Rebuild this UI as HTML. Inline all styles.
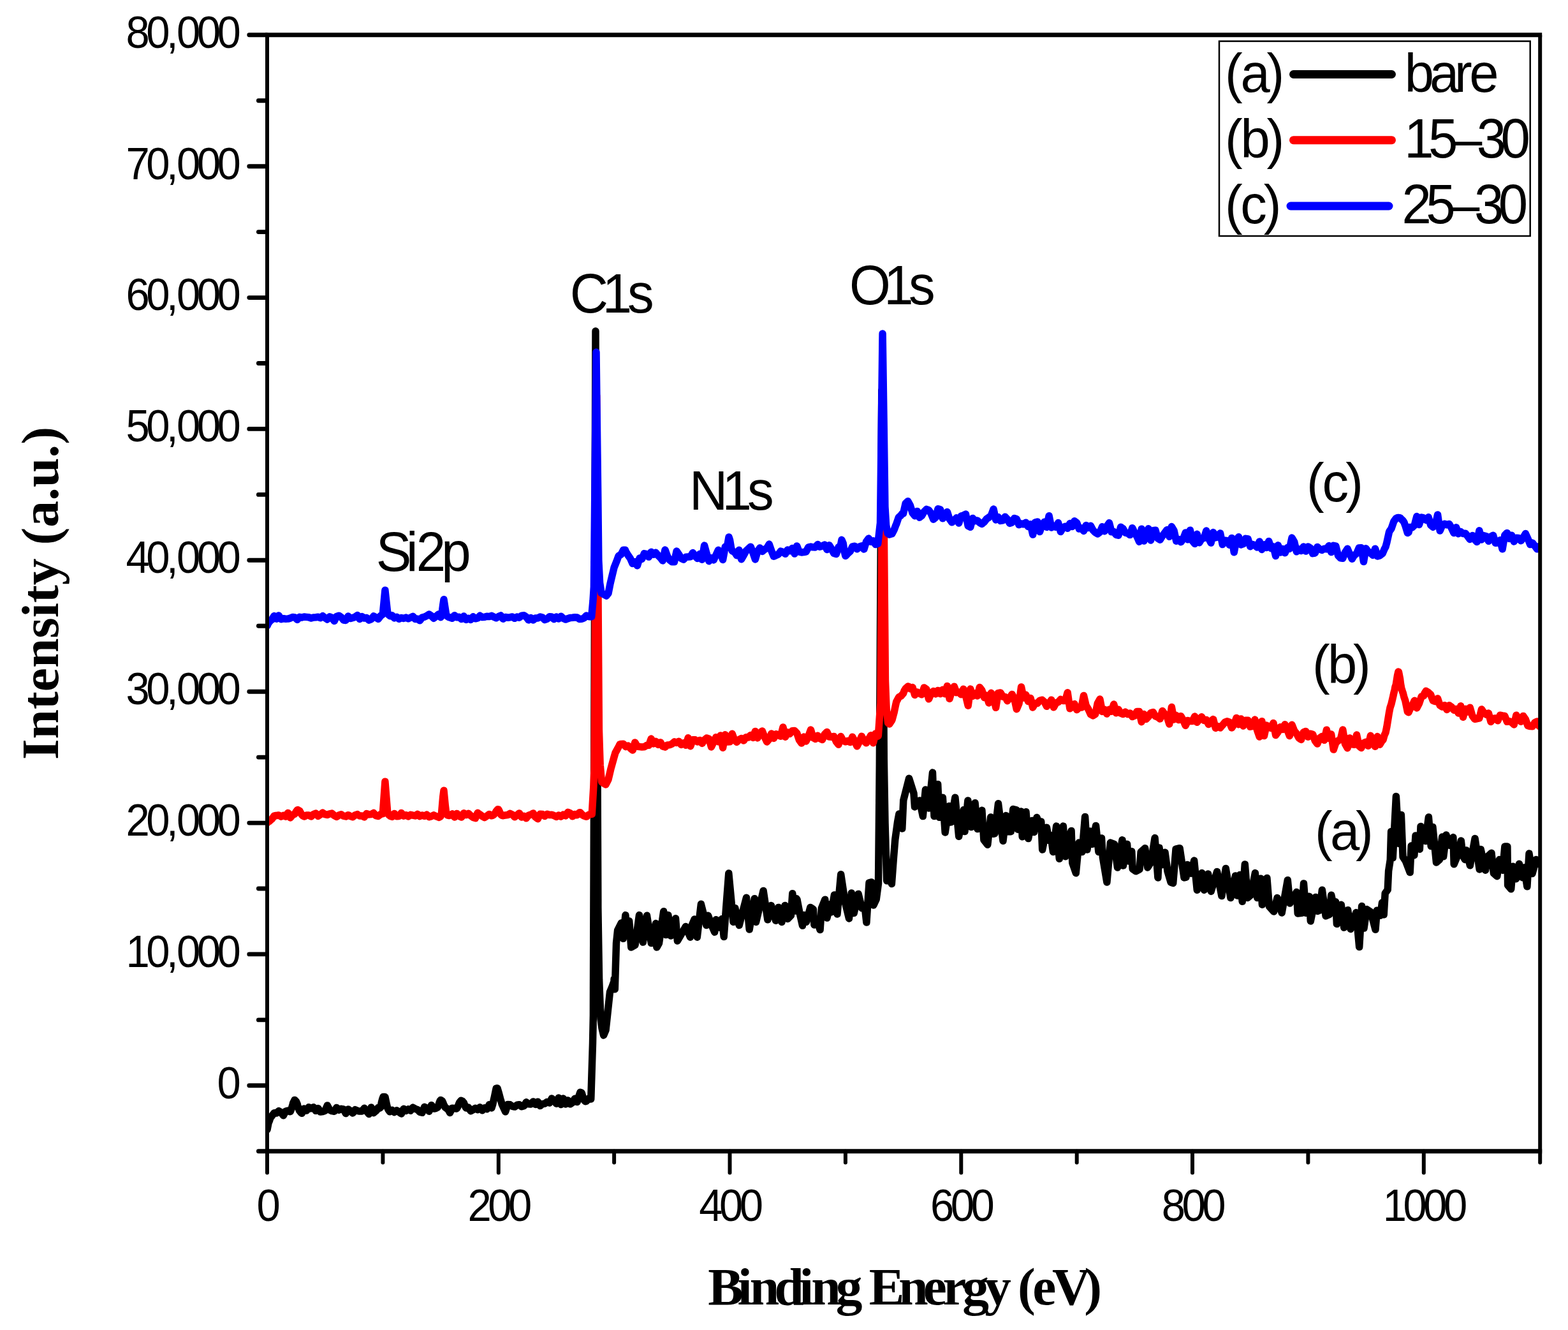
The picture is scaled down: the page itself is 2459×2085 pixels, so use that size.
<!DOCTYPE html>
<html><head><meta charset="utf-8"><title>XPS survey spectra</title>
<style>html,body{margin:0;padding:0;background:#fff}svg{display:block}</style></head>
<body>
<svg width="2459" height="2085" viewBox="0 0 2459 2085">
<rect width="2459" height="2085" fill="#fff"/>
<clipPath id="pc"><rect x="419.0" y="54.8" width="1996.1999999999998" height="1749.9"/></clipPath>
<g clip-path="url(#pc)" fill="none" stroke-linejoin="round" stroke-linecap="round" stroke-width="11.5">
<path stroke="#000" d="M419.0,1771.0 L421.0,1760.6 L422.6,1756.7 L424.0,1752.3 L426.3,1749.5 L429.9,1744.9 L430.0,1744.8 L433.5,1745.0 L437.1,1741.6 L440.0,1743.4 L440.8,1744.2 L444.4,1748.7 L448.0,1742.0 L451.6,1741.2 L452.4,1741.8 L454.8,1742.7 L455.3,1742.5 L457.2,1737.8 L458.9,1732.0 L459.6,1729.4 L462.0,1724.5 L462.5,1724.6 L464.4,1726.6 L466.2,1730.7 L466.8,1733.2 L469.2,1740.4 L469.8,1741.5 L471.6,1743.8 L473.4,1745.3 L477.0,1737.9 L480.7,1741.0 L484.3,1735.7 L487.9,1737.8 L491.6,1735.7 L495.2,1741.3 L498.8,1737.5 L500.0,1739.3 L502.4,1743.0 L506.1,1742.5 L509.7,1741.3 L513.3,1732.9 L517.0,1740.0 L520.6,1741.7 L524.2,1742.3 L527.8,1736.4 L531.5,1740.1 L535.1,1738.3 L538.7,1738.9 L542.3,1745.6 L546.0,1738.9 L549.6,1741.6 L553.2,1744.9 L556.9,1739.6 L560.5,1741.3 L564.1,1742.1 L567.7,1741.9 L571.4,1737.2 L575.0,1741.9 L578.6,1746.5 L582.2,1736.0 L585.9,1744.7 L589.5,1741.7 L590.2,1741.0 L592.9,1736.9 L593.1,1736.4 L595.6,1737.1 L596.8,1736.1 L598.3,1728.5 L600.0,1722.0 L600.4,1721.1 L601.0,1719.5 L603.7,1719.4 L604.0,1719.9 L606.4,1731.4 L607.6,1736.4 L609.1,1739.8 L611.3,1742.7 L611.8,1742.5 L614.9,1740.5 L618.5,1743.5 L622.1,1740.8 L625.8,1743.3 L629.4,1746.0 L633.0,1738.3 L636.7,1741.4 L640.3,1738.9 L643.9,1741.0 L647.5,1736.2 L651.2,1738.3 L654.8,1739.6 L658.4,1743.4 L662.0,1744.2 L665.7,1735.3 L669.3,1737.1 L672.9,1742.2 L676.6,1732.6 L680.2,1737.9 L681.4,1738.1 L683.8,1737.4 L683.8,1737.4 L686.2,1736.0 L687.4,1734.0 L688.6,1729.8 L690.0,1725.9 L691.0,1724.5 L691.1,1724.5 L693.4,1725.9 L694.7,1728.5 L695.8,1731.6 L698.2,1736.0 L698.3,1736.1 L700.6,1737.7 L702.0,1738.0 L705.6,1744.4 L709.2,1737.2 L712.8,1737.4 L713.4,1737.6 L715.8,1738.0 L716.5,1737.8 L718.2,1734.4 L720.1,1729.4 L720.6,1728.3 L723.0,1725.3 L723.7,1725.5 L725.4,1726.4 L727.4,1728.7 L727.8,1730.0 L730.2,1735.8 L731.0,1737.1 L732.6,1736.9 L734.6,1736.1 L738.2,1741.8 L741.9,1739.8 L745.5,1737.3 L749.1,1739.6 L752.7,1735.8 L756.4,1740.7 L760.0,1736.8 L763.6,1738.7 L767.2,1731.8 L770.4,1736.4 L770.9,1736.9 L772.8,1730.9 L774.5,1723.1 L775.2,1720.3 L777.6,1708.7 L778.1,1706.4 L780.0,1705.9 L781.8,1712.0 L782.4,1714.0 L784.8,1723.0 L785.4,1724.8 L787.2,1731.2 L789.0,1734.9 L789.6,1736.4 L792.6,1742.8 L796.3,1731.4 L799.9,1731.8 L803.5,1734.4 L807.1,1735.1 L810.8,1732.3 L814.4,1731.8 L818.0,1734.7 L821.7,1733.7 L825.3,1727.8 L828.9,1730.8 L830.0,1730.8 L832.5,1731.0 L836.2,1726.9 L839.8,1731.4 L843.4,1727.2 L847.1,1733.6 L850.7,1730.7 L854.3,1730.1 L857.9,1727.5 L861.6,1729.0 L865.2,1722.1 L868.8,1725.0 L872.5,1730.2 L876.1,1721.0 L879.7,1731.5 L883.3,1722.1 L887.0,1730.9 L890.0,1725.9 L890.6,1725.0 L894.2,1730.8 L897.8,1728.5 L901.5,1722.2 L901.6,1722.5 L903.7,1726.6 L905.1,1727.6 L905.8,1725.6 L907.9,1718.2 L908.7,1715.8 L910.0,1712.3 L912.1,1713.3 L912.4,1713.9 L914.2,1720.4 L916.0,1724.5 L916.3,1725.0 L918.0,1726.7 L918.4,1726.7 L919.6,1726.2 L923.2,1722.1 L924.0,1722.4 L926.7,1723.1 L926.9,1718.3 L929.5,1635.6 L930.4,1591.4 L930.5,1550.2 L934.0,519.0 L934.1,546.8 L937.0,1214.0 L937.8,1409.3 L937.8,1422.3 L939.6,1535.3 L941.0,1571.6 L941.4,1581.1 L942.0,1597.3 L944.0,1612.0 L945.0,1616.2 L946.6,1623.0 L948.6,1618.2 L950.0,1615.0 L952.3,1594.1 L955.9,1560.7 L956.5,1555.0 L959.5,1548.1 L963.0,1538.4 L963.1,1534.8 L964.3,1550.7 L966.5,1478.6 L968.6,1458.4 L974.4,1446.9 L977.3,1471.4 L980.9,1434.6 L983.8,1464.2 L986.7,1444.0 L989.8,1485.1 L996.0,1481.5 L1002.5,1434.6 L1008.3,1477.1 L1014.5,1435.3 L1021.3,1478.6 L1023.4,1477.1 L1028.5,1447.6 L1029.9,1485.1 L1033.5,1478.6 L1040.7,1428.8 L1044.3,1465.6 L1047.9,1434.6 L1052.0,1467.0 L1059.5,1439.7 L1062.4,1475.0 L1070.3,1461.3 L1075.3,1452.6 L1082.5,1469.2 L1085.4,1449.7 L1089.0,1441.1 L1093.3,1469.2 L1099.4,1417.3 L1107.8,1450.5 L1110.6,1435.3 L1115.7,1449.7 L1120.7,1461.3 L1122.9,1441.8 L1128.7,1454.1 L1132.3,1440.4 L1135.2,1468.5 L1142.8,1369.0 L1150.0,1445.4 L1152.9,1423.8 L1159.2,1450.5 L1170.5,1407.2 L1175.2,1457.0 L1183.2,1408.7 L1185.6,1445.4 L1197.1,1396.4 L1203.9,1441.8 L1209.4,1419.5 L1216.6,1443.3 L1220.9,1422.4 L1226.0,1445.4 L1231.0,1419.5 L1235.3,1440.4 L1240.4,1435.3 L1242.8,1400.7 L1246.2,1428.1 L1249.0,1408.7 L1250.0,1410.2 L1253.8,1429.9 L1258.5,1451.1 L1260.8,1434.5 L1264.6,1445.3 L1270.8,1422.5 L1275.4,1425.3 L1276.9,1449.9 L1280.8,1442.2 L1286.1,1457.6 L1288.4,1423.7 L1293.8,1410.2 L1296.9,1439.1 L1302.3,1417.6 L1303.8,1429.9 L1308.4,1403.0 L1313.0,1433.0 L1318.7,1370.7 L1325.3,1414.5 L1331.5,1439.9 L1335.3,1399.9 L1339.2,1431.4 L1346.1,1401.4 L1351.5,1423.7 L1356.1,1420.7 L1358.9,1446.0 L1363.0,1383.8 L1366.9,1383.0 L1369.9,1419.1 L1374.2,1409.9 L1377.5,1385.0 L1379.3,1200.0 L1381.0,900.0 L1382.8,612.0 L1384.6,900.0 L1386.3,1190.0 L1388.0,1290.0 L1390.7,1380.7 L1394.0,1372.0 L1398.4,1385.6 L1401.5,1343.8 L1403.8,1316.1 L1407.6,1288.4 L1409.9,1276.1 L1414.8,1298.9 L1416.8,1254.6 L1425.6,1220.3 L1433.0,1243.8 L1434.5,1265.0 L1442.2,1254.9 L1447.3,1279.6 L1451.4,1238.0 L1456.8,1266.9 L1462.5,1211.1 L1465.0,1279.6 L1470.7,1229.5 L1473.0,1281.2 L1478.4,1250.3 L1482.2,1305.0 L1488.3,1263.8 L1491.1,1288.9 L1497.9,1250.3 L1503.7,1311.2 L1511.4,1269.5 L1513.0,1303.5 L1517.9,1254.9 L1522.9,1296.6 L1529.1,1258.7 L1532.9,1299.6 L1539.9,1270.3 L1542.9,1316.6 L1548.8,1324.2 L1553.7,1281.0 L1558.0,1307.3 L1560.0,1306.7 L1565.5,1259.8 L1573.0,1318.2 L1577.7,1278.6 L1581.6,1303.8 L1585.2,1303.8 L1588.8,1268.5 L1593.9,1269.9 L1596.0,1300.2 L1601.5,1272.1 L1603.2,1311.7 L1609.0,1272.8 L1612.6,1314.6 L1618.4,1286.5 L1621.7,1304.5 L1626.0,1281.5 L1629.9,1292.3 L1632.8,1287.9 L1634.7,1331.9 L1641.5,1297.3 L1645.1,1317.5 L1647.9,1309.6 L1651.5,1335.5 L1656.6,1295.1 L1661.3,1346.3 L1667.4,1295.1 L1670.7,1342.7 L1675.3,1315.3 L1680.1,1302.4 L1681.8,1352.8 L1687.3,1368.7 L1691.9,1321.1 L1697.0,1335.5 L1701.6,1280.4 L1704.9,1331.9 L1709.9,1303.1 L1712.8,1323.3 L1718.6,1294.4 L1722.9,1335.5 L1727.5,1313.9 L1729.4,1344.2 L1735.9,1383.1 L1741.4,1321.1 L1747.4,1323.3 L1752.5,1360.0 L1760.0,1316.8 L1761.5,1357.1 L1767.6,1323.3 L1769.8,1349.9 L1774.8,1334.8 L1776.2,1362.2 L1781.3,1365.8 L1787.1,1362.9 L1789.2,1335.5 L1795.7,1329.7 L1799.7,1360.0 L1805.1,1351.4 L1811.1,1313.6 L1815.9,1375.9 L1818.0,1329.0 L1821.7,1355.7 L1827.0,1336.2 L1831.0,1365.8 L1836.1,1383.1 L1839.7,1384.5 L1844.0,1331.2 L1850.1,1329.7 L1857.0,1375.9 L1860.0,1375.1 L1862.2,1355.6 L1867.9,1369.3 L1872.7,1349.1 L1877.3,1395.2 L1884.8,1368.6 L1888.4,1395.2 L1894.6,1370.0 L1899.2,1397.4 L1908.6,1366.4 L1915.9,1404.6 L1922.3,1361.4 L1929.9,1407.5 L1937.4,1372.9 L1940.0,1403.9 L1944.3,1371.5 L1948.2,1413.3 L1952.3,1354.9 L1956.6,1407.5 L1961.6,1403.2 L1968.4,1368.6 L1971.7,1407.5 L1977.1,1377.2 L1979.4,1418.3 L1986.9,1376.5 L1990.5,1421.2 L1997.7,1429.1 L2003.0,1407.5 L2010.2,1431.0 L2019.3,1379.7 L2022.9,1416.1 L2033.4,1398.4 L2035.2,1432.0 L2041.4,1431.3 L2044.5,1384.9 L2048.1,1431.3 L2053.2,1405.3 L2055.3,1444.0 L2063.0,1406.5 L2066.2,1428.4 L2069.8,1427.0 L2073.4,1395.2 L2079.1,1435.9 L2084.9,1433.4 L2087.8,1403.2 L2091.4,1419.7 L2094.7,1413.7 L2096.4,1448.6 L2103.3,1418.3 L2107.7,1454.1 L2113.7,1426.7 L2118.0,1456.5 L2126.7,1430.6 L2131.7,1484.6 L2135.6,1420.5 L2139.0,1455.1 L2143.3,1425.5 L2149.8,1429.8 L2157.0,1457.2 L2159.4,1427.2 L2164.8,1435.3 L2167.5,1415.1 L2170.2,1433.9 L2172.2,1400.3 L2176.2,1394.9 L2177.6,1365.3 L2180.3,1347.8 L2181.6,1303.4 L2184.3,1344.7 L2189.4,1248.4 L2193.7,1322.5 L2197.4,1277.6 L2200.1,1343.4 L2204.5,1350.1 L2211.2,1367.6 L2213.2,1326.0 L2217.9,1340.7 L2220.0,1309.9 L2226.4,1331.3 L2228.0,1295.5 L2235.4,1318.5 L2240.4,1281.0 L2244.2,1326.6 L2246.9,1296.4 L2252.5,1352.1 L2257.6,1347.4 L2261.7,1311.9 L2263.7,1342.7 L2268.0,1308.9 L2273.1,1325.2 L2278.9,1312.6 L2280.2,1354.8 L2285.9,1341.1 L2291.3,1318.0 L2294.0,1341.1 L2297.3,1347.4 L2299.4,1333.0 L2305.4,1356.8 L2313.1,1314.6 L2320.2,1362.9 L2322.2,1331.4 L2329.6,1364.2 L2333.0,1342.8 L2339.0,1337.2 L2342.4,1368.9 L2347.8,1373.7 L2351.4,1347.6 L2356.5,1364.2 L2359.9,1327.0 L2363.9,1327.0 L2364.6,1387.8 L2369.7,1393.8 L2372.7,1358.3 L2377.7,1377.7 L2382.5,1354.3 L2387.5,1375.7 L2390.2,1359.9 L2394.9,1389.8 L2398.0,1338.1 L2403.0,1369.6 L2409.0,1347.6 L2413.7,1354.6"/>
<path stroke="#f00" d="M419.0,1290.1 L421.0,1287.7 L422.6,1287.4 L425.0,1284.8 L426.3,1284.2 L429.9,1279.1 L432.0,1278.6 L433.5,1278.7 L437.1,1277.9 L440.8,1280.1 L444.4,1278.4 L445.0,1278.7 L448.0,1280.1 L451.6,1274.4 L455.3,1281.9 L456.2,1280.8 L458.9,1277.4 L461.6,1276.4 L462.5,1275.7 L464.3,1272.5 L466.2,1269.9 L467.0,1269.6 L469.7,1271.0 L469.8,1271.1 L472.4,1275.8 L473.4,1277.4 L475.1,1279.0 L477.0,1280.0 L477.8,1279.7 L480.7,1278.0 L484.3,1278.1 L487.9,1280.0 L491.6,1276.5 L495.2,1275.1 L498.8,1279.3 L502.4,1277.0 L506.1,1274.2 L509.7,1276.6 L513.3,1277.4 L517.0,1275.8 L520.6,1275.1 L524.2,1278.5 L527.8,1280.4 L531.5,1277.9 L535.1,1276.8 L538.7,1279.2 L542.3,1280.0 L546.0,1277.7 L549.6,1279.6 L553.2,1280.7 L556.9,1277.9 L560.5,1276.6 L564.1,1279.1 L567.7,1278.9 L571.4,1280.8 L575.0,1275.5 L578.6,1276.9 L582.2,1276.5 L585.9,1274.5 L589.5,1278.6 L593.1,1279.5 L596.6,1276.8 L596.8,1276.5 L600.2,1275.7 L600.4,1274.1 L603.9,1225.2 L604.0,1226.6 L607.6,1271.8 L607.7,1272.6 L609.5,1277.3 L611.3,1278.6 L611.9,1279.4 L614.9,1280.4 L618.5,1275.4 L622.1,1279.7 L625.8,1279.6 L629.4,1274.4 L633.0,1279.1 L636.7,1277.7 L640.3,1280.0 L643.9,1277.3 L647.5,1278.2 L651.2,1279.0 L654.8,1276.4 L658.4,1279.6 L662.0,1278.0 L665.7,1279.3 L669.3,1277.1 L672.9,1280.6 L676.6,1279.6 L680.2,1277.9 L683.8,1279.6 L687.4,1281.0 L688.7,1281.4 L691.1,1279.7 L692.4,1275.8 L694.7,1249.3 L696.0,1239.2 L698.3,1262.7 L699.8,1274.9 L701.6,1277.8 L702.0,1278.0 L704.0,1278.6 L705.6,1278.0 L709.2,1276.0 L712.8,1281.0 L716.5,1275.4 L720.1,1279.5 L723.7,1281.1 L727.4,1274.7 L731.0,1277.5 L734.6,1275.3 L738.2,1278.7 L741.9,1281.5 L745.5,1282.6 L749.1,1274.3 L752.7,1276.9 L756.4,1279.7 L760.0,1281.6 L763.6,1279.1 L767.2,1276.5 L770.9,1278.8 L772.2,1278.4 L774.3,1277.3 L774.5,1277.1 L776.4,1274.9 L778.1,1271.9 L778.5,1271.2 L780.6,1268.8 L781.8,1269.0 L782.7,1270.8 L784.8,1275.6 L785.4,1276.8 L786.9,1278.1 L789.0,1278.7 L789.0,1278.7 L792.6,1277.9 L796.3,1277.6 L799.9,1275.3 L803.5,1277.1 L807.1,1280.8 L810.8,1277.7 L814.4,1274.9 L818.0,1281.0 L821.7,1279.3 L825.3,1282.7 L828.9,1278.2 L832.5,1277.1 L836.2,1274.9 L839.8,1281.0 L843.4,1283.7 L847.1,1276.3 L850.7,1276.6 L854.3,1279.4 L857.9,1276.2 L861.6,1277.5 L865.2,1277.3 L868.8,1278.5 L872.5,1280.5 L876.1,1278.1 L879.7,1280.1 L883.3,1277.1 L887.0,1278.8 L890.6,1273.3 L894.2,1274.8 L897.8,1279.8 L901.5,1276.6 L901.6,1276.7 L903.7,1277.7 L905.1,1277.7 L905.8,1277.1 L907.9,1274.5 L908.7,1273.7 L910.0,1273.8 L912.1,1276.1 L912.4,1276.5 L914.2,1278.1 L916.0,1279.0 L916.3,1279.2 L918.4,1280.0 L919.6,1280.2 L920.0,1280.0 L923.2,1277.3 L926.0,1276.6 L926.9,1276.3 L928.3,1276.2 L930.5,1239.2 L931.0,1230.5 L932.0,1206.0 L934.1,857.6 L935.6,620.0 L937.0,804.4 L937.8,910.4 L939.4,1143.5 L941.2,1199.8 L941.4,1201.7 L943.6,1225.8 L944.0,1226.0 L945.0,1226.7 L948.6,1229.1 L950.0,1230.0 L952.3,1225.5 L954.0,1222.0 L955.9,1214.0 L958.0,1205.0 L959.5,1199.6 L963.1,1186.6 L965.0,1180.1 L966.8,1176.9 L970.4,1170.3 L972.0,1166.9 L974.0,1166.5 L977.6,1166.3 L981.3,1170.6 L984.9,1169.0 L988.5,1173.0 L992.2,1176.0 L995.8,1163.9 L999.4,1170.2 L1000.0,1170.3 L1003.0,1170.6 L1006.7,1171.1 L1010.3,1170.8 L1013.9,1168.6 L1017.5,1168.3 L1021.2,1158.1 L1024.8,1165.9 L1028.4,1162.3 L1032.1,1167.4 L1035.7,1163.7 L1039.3,1170.0 L1043.0,1171.1 L1046.6,1167.9 L1050.2,1167.8 L1053.8,1166.3 L1057.5,1162.9 L1061.1,1164.4 L1064.7,1162.3 L1068.3,1167.4 L1072.0,1165.0 L1075.6,1168.3 L1079.2,1156.7 L1082.8,1169.8 L1086.5,1159.7 L1090.1,1159.8 L1093.7,1162.8 L1097.4,1160.5 L1101.0,1165.4 L1104.6,1160.1 L1108.2,1157.0 L1111.9,1158.2 L1115.5,1170.9 L1119.1,1163.2 L1122.8,1155.8 L1126.4,1162.7 L1129.0,1155.8 L1130.0,1153.0 L1133.6,1172.3 L1137.3,1151.8 L1140.9,1163.1 L1144.5,1162.8 L1148.2,1150.2 L1151.8,1160.0 L1155.4,1163.4 L1159.0,1159.6 L1162.7,1157.6 L1166.3,1161.1 L1169.9,1155.7 L1173.5,1156.0 L1177.2,1152.5 L1180.8,1156.4 L1184.0,1147.5 L1184.4,1146.4 L1188.0,1156.9 L1191.7,1149.3 L1195.3,1145.9 L1198.9,1154.8 L1202.6,1162.9 L1206.2,1158.7 L1209.8,1150.0 L1213.4,1157.4 L1217.1,1150.7 L1220.7,1152.8 L1224.3,1154.3 L1228.0,1140.0 L1231.6,1155.2 L1235.2,1148.0 L1238.8,1150.2 L1242.5,1145.7 L1246.1,1145.6 L1249.7,1149.2 L1253.3,1159.9 L1254.0,1160.9 L1257.0,1165.1 L1260.6,1155.1 L1264.2,1161.9 L1267.9,1153.8 L1271.5,1144.1 L1275.1,1156.5 L1278.7,1158.4 L1282.4,1153.3 L1286.0,1157.8 L1289.6,1159.5 L1293.2,1151.0 L1296.9,1147.4 L1300.5,1155.1 L1304.1,1155.2 L1307.8,1154.5 L1311.4,1162.6 L1315.0,1167.2 L1318.6,1154.5 L1322.3,1161.2 L1325.9,1162.8 L1329.5,1161.5 L1333.2,1163.6 L1336.8,1155.2 L1340.4,1162.0 L1344.0,1169.8 L1347.7,1162.6 L1351.3,1154.2 L1354.0,1159.8 L1354.9,1161.5 L1358.5,1164.8 L1362.2,1158.8 L1365.8,1152.7 L1369.4,1164.7 L1372.0,1154.4 L1373.1,1150.0 L1376.7,1154.0 L1377.3,1153.7 L1380.3,1111.4 L1381.0,1102.5 L1381.5,1034.9 L1383.9,724.1 L1384.6,640.0 L1386.0,792.4 L1387.6,971.8 L1388.4,1066.6 L1390.2,1112.2 L1391.2,1121.0 L1392.0,1128.0 L1392.6,1133.4 L1394.8,1135.0 L1394.8,1135.0 L1398.5,1129.6 L1399.0,1128.4 L1402.1,1117.1 L1404.0,1107.8 L1405.7,1100.2 L1409.3,1093.5 L1410.0,1092.6 L1413.0,1091.1 L1416.6,1087.0 L1418.0,1083.1 L1420.2,1079.5 L1423.8,1076.1 L1425.0,1076.2 L1427.5,1079.8 L1431.1,1077.6 L1434.7,1089.5 L1438.4,1084.9 L1440.0,1086.5 L1442.0,1087.0 L1445.6,1088.8 L1449.2,1078.0 L1452.9,1080.5 L1456.5,1095.8 L1460.1,1087.7 L1463.8,1083.6 L1467.4,1087.9 L1471.0,1082.4 L1474.6,1087.7 L1478.3,1081.3 L1481.9,1087.8 L1484.0,1080.5 L1485.5,1075.4 L1489.1,1095.4 L1492.8,1083.2 L1496.4,1076.2 L1500.0,1085.6 L1503.7,1084.9 L1507.3,1088.7 L1510.9,1080.2 L1514.5,1090.9 L1518.2,1106.2 L1521.8,1080.1 L1525.4,1091.3 L1529.0,1087.2 L1532.7,1090.9 L1536.3,1077.5 L1539.9,1082.3 L1543.6,1093.5 L1547.2,1090.3 L1550.8,1102.0 L1554.4,1086.3 L1558.1,1092.6 L1561.7,1109.3 L1565.3,1086.7 L1569.0,1086.0 L1572.6,1092.2 L1576.2,1092.4 L1579.8,1098.7 L1583.5,1094.1 L1587.1,1088.4 L1590.7,1095.2 L1594.3,1111.7 L1598.0,1103.0 L1601.6,1076.9 L1605.2,1093.9 L1608.8,1089.2 L1612.5,1099.6 L1616.1,1094.5 L1619.7,1109.0 L1623.4,1102.5 L1627.0,1102.5 L1628.0,1101.2 L1630.6,1098.2 L1634.2,1097.2 L1637.9,1100.3 L1641.5,1107.3 L1645.1,1102.7 L1648.8,1097.2 L1652.4,1108.8 L1656.0,1102.0 L1659.6,1100.7 L1663.3,1096.4 L1666.9,1098.5 L1670.5,1098.5 L1674.2,1085.7 L1677.8,1110.8 L1681.4,1108.3 L1685.0,1103.6 L1688.7,1112.7 L1692.3,1109.1 L1695.9,1109.1 L1699.5,1090.4 L1703.2,1106.1 L1706.8,1111.9 L1710.4,1119.8 L1714.0,1121.9 L1717.7,1119.6 L1721.3,1102.5 L1724.9,1096.1 L1728.6,1115.4 L1732.2,1112.2 L1735.8,1119.1 L1739.5,1112.3 L1743.1,1115.2 L1746.7,1104.0 L1750.3,1117.8 L1754.0,1112.3 L1757.6,1118.2 L1761.2,1119.5 L1764.8,1116.1 L1768.5,1119.6 L1772.0,1118.0 L1772.1,1117.9 L1775.7,1123.5 L1779.3,1122.2 L1783.0,1115.4 L1786.6,1115.5 L1790.2,1131.7 L1793.9,1119.5 L1797.5,1127.3 L1801.1,1123.6 L1804.7,1117.5 L1808.4,1116.6 L1812.0,1122.8 L1815.6,1124.1 L1819.2,1126.9 L1822.9,1114.5 L1826.5,1119.4 L1830.1,1123.2 L1833.8,1135.1 L1837.4,1108.5 L1841.0,1127.9 L1844.7,1121.6 L1848.3,1128.6 L1851.9,1122.7 L1855.5,1128.9 L1859.2,1137.4 L1862.8,1129.6 L1866.4,1130.5 L1870.0,1130.4 L1873.7,1123.1 L1877.3,1132.3 L1880.9,1127.6 L1884.5,1123.8 L1888.2,1129.4 L1891.8,1128.5 L1895.4,1135.5 L1899.1,1130.5 L1902.7,1127.6 L1906.3,1141.4 L1909.9,1138.6 L1913.6,1140.9 L1916.0,1138.1 L1917.2,1136.8 L1920.8,1132.4 L1924.5,1130.8 L1928.1,1132.2 L1931.7,1141.0 L1935.3,1135.8 L1939.0,1125.5 L1942.6,1135.7 L1946.2,1126.9 L1949.8,1138.1 L1953.5,1129.3 L1957.1,1129.3 L1960.7,1139.2 L1964.4,1138.4 L1968.0,1128.1 L1971.6,1144.9 L1975.2,1155.0 L1978.9,1130.7 L1982.5,1153.6 L1986.1,1137.1 L1989.8,1138.9 L1993.4,1141.5 L1997.0,1133.4 L2000.6,1152.5 L2003.0,1149.3 L2004.3,1147.6 L2007.9,1139.7 L2011.5,1143.5 L2015.1,1135.7 L2018.8,1144.3 L2022.4,1153.6 L2026.0,1136.2 L2029.7,1145.5 L2033.3,1150.1 L2036.9,1156.8 L2040.5,1159.5 L2044.2,1147.8 L2047.8,1146.5 L2051.4,1155.2 L2055.1,1150.3 L2058.7,1151.3 L2062.3,1161.3 L2065.9,1166.1 L2069.6,1157.0 L2073.2,1154.5 L2076.8,1160.3 L2080.4,1144.2 L2084.1,1157.5 L2087.7,1151.1 L2091.3,1175.1 L2094.9,1164.4 L2098.6,1161.0 L2102.2,1159.4 L2104.0,1151.9 L2105.8,1144.0 L2109.5,1166.2 L2113.1,1172.7 L2116.7,1156.9 L2120.3,1166.8 L2124.0,1167.3 L2127.6,1152.1 L2131.2,1169.3 L2134.8,1172.4 L2138.5,1165.0 L2142.1,1163.2 L2145.7,1169.3 L2147.0,1163.8 L2149.4,1153.3 L2153.0,1164.1 L2156.6,1170.3 L2160.2,1154.5 L2163.9,1167.2 L2167.5,1161.0 L2169.0,1160.0 L2171.1,1152.5 L2173.0,1148.4 L2174.8,1139.8 L2178.4,1117.7 L2180.0,1109.4 L2182.0,1103.4 L2185.1,1090.1 L2185.6,1087.5 L2187.2,1081.1 L2188.0,1076.7 L2189.3,1073.2 L2189.3,1073.0 L2191.4,1059.6 L2192.9,1053.0 L2193.5,1053.5 L2195.6,1064.4 L2196.5,1071.9 L2197.7,1078.4 L2199.8,1085.3 L2200.0,1085.6 L2200.2,1086.1 L2201.9,1092.8 L2203.8,1098.3 L2207.4,1115.8 L2209.0,1116.7 L2211.0,1112.1 L2214.7,1106.0 L2218.3,1098.3 L2220.0,1104.3 L2221.9,1109.9 L2225.5,1102.8 L2229.2,1091.8 L2232.8,1091.0 L2234.0,1086.9 L2236.4,1083.2 L2240.1,1085.6 L2243.7,1089.0 L2245.0,1092.5 L2247.3,1098.3 L2250.9,1099.7 L2254.6,1095.0 L2258.2,1105.9 L2261.8,1108.0 L2263.0,1107.3 L2265.4,1105.7 L2269.1,1112.5 L2272.7,1105.7 L2276.3,1108.2 L2280.0,1113.2 L2283.6,1111.5 L2287.2,1118.1 L2290.8,1106.8 L2292.0,1112.5 L2294.5,1124.3 L2298.1,1111.4 L2301.7,1116.0 L2305.3,1109.2 L2309.0,1122.2 L2312.6,1127.2 L2316.2,1126.7 L2319.9,1125.9 L2323.5,1111.9 L2327.1,1117.4 L2330.8,1120.2 L2334.4,1118.0 L2338.0,1131.5 L2341.6,1126.4 L2345.3,1125.9 L2348.9,1129.8 L2349.0,1129.5 L2352.5,1121.2 L2356.1,1121.9 L2359.8,1122.4 L2363.4,1131.3 L2367.0,1130.7 L2370.7,1132.5 L2374.3,1136.0 L2377.9,1121.2 L2381.5,1126.5 L2385.2,1131.3 L2388.8,1122.4 L2392.4,1127.8 L2396.0,1137.7 L2399.7,1138.6 L2403.3,1138.8 L2406.9,1132.8 L2407.0,1132.7 L2410.6,1131.0 L2414.2,1138.7"/>
<path stroke="#00f" d="M419.0,981.1 L421.0,976.7 L422.6,974.8 L425.0,972.1 L426.3,971.4 L429.9,965.6 L432.0,968.1 L433.5,970.2 L437.1,964.9 L440.8,970.6 L444.4,969.8 L445.0,969.8 L448.0,970.2 L451.6,970.1 L455.3,969.1 L458.9,967.4 L462.5,967.9 L466.2,971.5 L469.8,967.3 L473.4,968.0 L477.0,967.0 L480.7,967.4 L484.3,967.8 L487.9,969.0 L491.6,967.9 L495.2,967.7 L498.8,967.2 L502.4,968.6 L506.1,965.7 L509.7,968.5 L513.3,971.0 L517.0,966.9 L520.6,968.3 L524.2,973.6 L527.8,966.4 L531.5,965.2 L535.1,967.5 L538.7,972.0 L542.3,972.5 L546.0,966.0 L549.6,969.5 L553.2,968.4 L556.9,967.2 L560.5,964.5 L564.1,970.4 L567.7,966.7 L571.4,969.0 L575.0,968.5 L578.6,972.1 L582.2,970.7 L585.9,966.0 L589.5,967.8 L593.1,970.4 L596.6,965.9 L596.8,965.5 L600.2,963.1 L600.4,961.8 L603.9,925.2 L604.0,926.3 L607.6,958.8 L607.7,959.4 L609.5,963.7 L611.3,965.4 L611.9,965.7 L614.9,964.9 L618.5,968.9 L622.1,967.2 L625.8,970.2 L629.4,968.5 L633.0,969.4 L636.7,968.1 L640.3,969.8 L643.9,968.1 L647.5,966.3 L651.2,970.6 L654.8,970.2 L658.4,972.8 L662.0,968.0 L665.7,967.1 L669.3,965.4 L672.9,963.1 L676.6,965.6 L680.2,969.2 L683.8,966.5 L687.4,963.1 L688.7,965.3 L691.1,967.7 L692.4,965.9 L694.7,948.4 L696.0,939.8 L698.3,954.7 L699.8,963.9 L701.6,966.3 L702.0,966.4 L704.0,967.7 L705.6,968.0 L709.2,969.2 L712.8,964.7 L716.5,967.8 L720.1,967.2 L723.7,970.5 L727.4,966.1 L731.0,971.5 L734.6,969.4 L738.2,971.4 L741.9,966.8 L745.5,969.8 L749.1,968.9 L752.7,965.2 L756.4,967.6 L760.0,967.3 L763.6,966.2 L767.2,966.6 L770.9,965.3 L774.5,967.2 L778.1,968.8 L781.8,966.6 L785.4,965.0 L789.0,970.2 L792.6,967.4 L796.3,968.2 L799.9,967.7 L803.5,967.0 L807.1,969.3 L810.8,967.1 L814.4,968.2 L818.0,965.2 L821.7,964.8 L825.3,967.3 L828.9,971.9 L832.5,968.5 L836.2,971.9 L839.8,969.0 L843.4,969.0 L847.1,966.9 L850.7,968.0 L854.3,971.6 L857.9,970.4 L861.6,966.8 L865.2,967.1 L868.8,970.7 L872.5,967.0 L876.1,969.9 L879.7,966.2 L883.3,969.3 L887.0,971.1 L890.6,969.7 L894.2,968.5 L897.8,968.3 L901.5,967.8 L905.1,968.0 L908.7,970.4 L912.4,970.3 L915.0,969.2 L916.0,968.7 L919.6,965.0 L923.2,966.5 L925.0,966.7 L926.9,966.8 L927.7,966.6 L930.0,941.6 L930.5,933.8 L931.4,920.0 L934.1,640.7 L935.0,552.0 L937.0,718.3 L937.8,784.9 L938.8,878.2 L940.6,913.6 L941.4,918.7 L943.0,929.7 L944.0,930.0 L945.0,930.6 L948.6,932.6 L951.0,934.0 L952.3,932.3 L954.0,930.0 L955.9,920.6 L957.0,915.0 L959.5,904.5 L963.0,890.0 L963.1,889.6 L966.8,880.4 L970.0,871.8 L970.4,871.4 L974.0,869.1 L977.6,862.3 L980.5,862.3 L981.3,864.4 L984.9,870.4 L988.5,875.5 L992.0,883.4 L992.2,883.4 L995.8,880.8 L999.4,886.7 L1003.0,875.1 L1005.0,875.6 L1006.7,876.4 L1010.3,867.8 L1013.9,868.6 L1017.0,872.3 L1017.5,873.1 L1021.2,865.3 L1024.8,869.2 L1028.4,866.3 L1032.1,870.9 L1035.7,874.3 L1039.3,878.9 L1043.0,862.0 L1046.6,871.9 L1050.2,877.9 L1053.8,880.7 L1057.5,880.7 L1061.1,864.0 L1064.7,869.2 L1068.3,875.3 L1072.0,877.2 L1075.6,873.3 L1079.2,873.0 L1082.8,872.7 L1086.5,866.6 L1090.1,871.8 L1093.7,875.4 L1097.4,868.6 L1101.0,877.2 L1104.6,855.1 L1108.2,868.1 L1111.9,879.7 L1115.5,874.7 L1119.1,877.9 L1122.8,870.2 L1126.4,862.3 L1129.0,865.0 L1130.0,866.0 L1133.6,877.5 L1135.7,866.3 L1137.3,857.1 L1139.3,858.8 L1140.9,854.0 L1143.0,841.9 L1144.5,846.3 L1146.8,859.9 L1148.2,863.5 L1148.6,864.0 L1151.0,865.0 L1151.8,865.1 L1155.4,870.7 L1159.0,862.3 L1162.7,876.8 L1166.3,870.4 L1169.9,863.7 L1173.5,860.4 L1177.2,857.2 L1180.8,866.4 L1184.4,876.9 L1188.0,864.3 L1191.7,859.0 L1195.3,864.4 L1198.9,861.5 L1202.6,859.1 L1206.2,853.1 L1209.8,863.5 L1213.4,872.2 L1217.1,870.5 L1220.7,868.9 L1224.3,864.1 L1228.0,865.4 L1231.6,868.3 L1235.2,861.9 L1238.8,863.6 L1242.5,859.5 L1246.1,868.1 L1249.7,855.9 L1253.3,865.0 L1254.0,865.2 L1257.0,865.9 L1260.6,865.6 L1264.2,864.8 L1267.9,857.8 L1271.5,857.1 L1275.1,857.8 L1278.7,857.9 L1282.4,853.4 L1286.0,857.2 L1289.6,855.9 L1293.2,854.0 L1296.9,861.5 L1300.5,854.8 L1304.1,860.5 L1307.8,867.5 L1311.4,868.6 L1312.7,865.0 L1315.0,857.7 L1316.3,859.2 L1318.6,853.6 L1320.0,846.3 L1322.3,852.0 L1323.8,862.9 L1325.6,870.4 L1325.9,871.5 L1328.0,869.5 L1329.5,867.6 L1333.2,864.4 L1336.8,856.9 L1340.4,856.2 L1344.0,860.7 L1347.7,857.2 L1351.3,855.8 L1354.0,859.8 L1354.9,861.0 L1358.5,849.1 L1362.2,844.1 L1365.8,849.2 L1369.4,847.8 L1372.0,851.9 L1373.1,853.5 L1376.7,852.2 L1376.8,852.2 L1380.3,821.5 L1380.5,820.2 L1381.5,737.2 L1383.9,536.2 L1384.1,523.0 L1386.0,655.3 L1387.6,770.3 L1387.9,794.4 L1389.7,823.2 L1391.2,831.2 L1392.0,835.5 L1392.1,836.1 L1394.8,837.9 L1395.0,838.0 L1398.5,836.6 L1399.0,836.7 L1402.1,830.7 L1405.0,823.0 L1405.7,821.6 L1409.3,811.0 L1413.0,807.8 L1415.0,804.9 L1416.6,804.9 L1420.2,789.1 L1423.6,785.8 L1423.8,785.8 L1427.5,792.6 L1431.1,804.2 L1434.7,808.8 L1438.4,801.4 L1440.0,806.0 L1442.0,811.2 L1445.6,808.5 L1449.2,802.2 L1452.9,798.4 L1456.5,799.6 L1460.1,805.0 L1463.8,814.2 L1467.4,811.1 L1471.0,797.7 L1474.6,798.8 L1478.3,812.8 L1481.9,809.3 L1485.5,802.5 L1489.1,813.7 L1492.8,818.8 L1496.4,815.7 L1500.0,811.8 L1500.0,811.8 L1503.7,820.1 L1507.3,809.0 L1510.9,807.9 L1514.5,806.0 L1518.2,824.6 L1521.8,826.3 L1525.4,812.4 L1529.0,816.7 L1532.7,816.0 L1536.3,819.4 L1539.9,821.3 L1542.0,819.5 L1543.6,818.2 L1547.2,813.5 L1550.8,811.1 L1554.4,808.1 L1558.1,798.1 L1561.7,814.9 L1565.3,810.4 L1569.0,816.4 L1572.6,815.8 L1576.2,810.2 L1579.8,813.9 L1583.5,820.3 L1587.1,819.0 L1590.7,812.5 L1594.3,813.7 L1598.0,822.7 L1600.0,821.6 L1601.6,820.9 L1605.2,821.8 L1608.8,819.2 L1612.5,825.5 L1616.1,821.8 L1619.7,838.1 L1623.4,819.0 L1627.0,817.9 L1628.0,822.3 L1630.6,833.6 L1634.2,822.6 L1637.9,818.2 L1641.5,826.4 L1645.1,808.7 L1648.8,827.0 L1652.4,824.4 L1656.0,826.3 L1659.6,819.6 L1663.3,833.6 L1666.9,827.4 L1670.5,825.4 L1674.2,828.2 L1677.8,820.6 L1681.4,825.5 L1685.0,816.8 L1688.7,819.6 L1692.3,829.0 L1695.9,828.1 L1699.5,832.4 L1700.0,831.2 L1703.2,823.6 L1706.8,827.6 L1710.4,824.3 L1714.0,830.9 L1717.7,834.7 L1721.3,837.0 L1724.9,834.2 L1728.6,825.7 L1732.2,832.7 L1735.8,825.0 L1739.5,819.7 L1743.1,833.7 L1746.7,833.5 L1750.3,838.3 L1754.0,839.2 L1757.6,826.3 L1761.2,828.8 L1764.8,835.1 L1768.5,836.0 L1772.0,838.5 L1772.1,838.6 L1775.7,827.7 L1779.3,834.8 L1783.0,840.9 L1786.6,849.3 L1790.2,829.2 L1793.9,848.1 L1797.5,836.0 L1801.1,828.8 L1804.7,847.0 L1808.4,831.7 L1812.0,831.3 L1815.6,843.9 L1819.2,846.2 L1822.9,840.2 L1826.5,835.3 L1830.1,830.6 L1833.8,841.2 L1837.4,825.6 L1841.0,831.6 L1844.7,848.2 L1848.3,845.7 L1851.9,849.8 L1855.5,844.8 L1859.2,835.0 L1862.8,845.8 L1866.4,831.2 L1870.0,847.8 L1873.7,852.4 L1877.3,837.3 L1880.9,850.7 L1884.5,844.6 L1888.2,843.5 L1891.8,832.1 L1895.4,844.1 L1899.1,851.1 L1902.7,834.5 L1906.3,842.8 L1909.9,841.7 L1913.6,835.9 L1916.0,847.7 L1917.2,853.6 L1920.8,847.3 L1924.5,847.8 L1928.1,854.3 L1931.7,843.4 L1935.3,865.8 L1939.0,846.0 L1942.6,841.8 L1946.2,853.9 L1949.8,852.6 L1953.5,844.3 L1957.1,845.0 L1960.7,856.7 L1964.4,853.6 L1968.0,854.7 L1971.6,858.1 L1975.2,848.9 L1978.9,861.4 L1982.5,853.8 L1986.1,858.6 L1989.8,848.4 L1993.4,859.6 L1997.0,856.9 L2000.6,871.5 L2003.0,860.7 L2004.3,854.8 L2007.9,866.0 L2011.5,860.5 L2015.1,866.8 L2018.8,858.5 L2022.4,860.3 L2026.0,843.1 L2029.7,849.4 L2033.3,864.8 L2036.9,861.0 L2040.5,863.5 L2044.2,857.1 L2047.8,864.1 L2051.4,857.0 L2055.1,859.2 L2058.7,867.7 L2062.3,867.1 L2065.9,857.5 L2069.6,861.0 L2073.2,862.4 L2076.8,860.2 L2080.4,860.8 L2084.1,855.6 L2087.7,865.6 L2091.3,855.4 L2094.9,856.2 L2098.6,871.0 L2102.2,874.8 L2105.8,875.2 L2109.5,865.8 L2113.1,860.3 L2116.7,868.8 L2118.0,870.8 L2120.3,876.2 L2124.0,870.0 L2125.0,869.9 L2127.6,867.4 L2131.2,859.0 L2134.8,858.7 L2138.5,880.6 L2142.1,859.8 L2145.7,864.8 L2149.4,867.0 L2153.0,870.4 L2156.6,860.2 L2160.2,872.0 L2163.9,870.9 L2167.5,868.2 L2168.0,868.1 L2171.1,860.8 L2173.0,857.3 L2174.8,850.7 L2178.4,834.5 L2179.0,832.8 L2182.0,828.6 L2185.6,818.1 L2186.0,817.1 L2189.3,812.7 L2192.0,811.4 L2192.9,811.4 L2196.0,811.9 L2196.5,812.8 L2200.2,816.3 L2202.0,819.0 L2203.8,823.9 L2207.4,835.5 L2209.0,834.6 L2211.0,826.5 L2214.7,826.9 L2218.3,823.4 L2220.0,816.5 L2221.9,809.5 L2225.5,822.5 L2229.2,811.0 L2232.0,811.6 L2232.8,812.9 L2236.4,815.4 L2240.1,810.8 L2243.7,823.1 L2247.3,826.2 L2250.0,824.2 L2250.9,823.1 L2254.6,806.9 L2258.2,832.1 L2261.8,823.6 L2265.4,821.3 L2268.0,822.1 L2269.1,822.8 L2272.7,821.5 L2276.3,827.7 L2280.0,835.6 L2283.6,826.8 L2287.2,836.7 L2290.8,833.6 L2292.0,834.8 L2294.5,836.5 L2298.1,836.2 L2301.7,840.7 L2305.3,845.5 L2309.0,839.5 L2312.6,845.6 L2316.2,849.6 L2319.9,831.8 L2323.5,846.0 L2327.1,839.7 L2330.8,840.8 L2334.4,848.3 L2338.0,841.3 L2341.6,839.2 L2345.3,851.3 L2348.9,850.4 L2349.0,850.3 L2352.5,846.8 L2356.1,860.8 L2359.8,839.0 L2363.4,835.4 L2367.0,844.5 L2370.7,839.2 L2374.3,848.9 L2377.9,843.3 L2381.5,843.6 L2385.2,847.8 L2388.8,842.9 L2392.4,836.6 L2396.0,844.4 L2399.7,853.6 L2403.3,851.1 L2406.9,855.7 L2407.0,855.9 L2410.6,860.8 L2414.2,856.3"/>
</g>
<g stroke="#000" fill="none" stroke-linecap="round">
<g stroke-linecap="butt"><line x1="416.0" y1="54.8" x2="2418.2" y2="54.8" stroke-width="6.9"/><line x1="416.0" y1="1804.7" x2="2418.2" y2="1804.7" stroke-width="6.9"/><line x1="419.0" y1="54.8" x2="419.0" y2="1804.7" stroke-width="6.0"/><line x1="2415.2" y1="54.8" x2="2415.2" y2="1804.7" stroke-width="6.0"/></g>
<line x1="390.8" y1="1701.8" x2="418.0" y2="1701.8" stroke-width="6.9"/>
<line x1="390.8" y1="1495.9" x2="418.0" y2="1495.9" stroke-width="6.9"/>
<line x1="390.8" y1="1290.1" x2="418.0" y2="1290.1" stroke-width="6.9"/>
<line x1="390.8" y1="1084.2" x2="418.0" y2="1084.2" stroke-width="6.9"/>
<line x1="390.8" y1="878.3" x2="418.0" y2="878.3" stroke-width="6.9"/>
<line x1="390.8" y1="672.4" x2="418.0" y2="672.4" stroke-width="6.9"/>
<line x1="390.8" y1="466.6" x2="418.0" y2="466.6" stroke-width="6.9"/>
<line x1="390.8" y1="260.7" x2="418.0" y2="260.7" stroke-width="6.9"/>
<line x1="390.8" y1="54.8" x2="418.0" y2="54.8" stroke-width="6.9"/>
<line x1="405.4" y1="1804.7" x2="418.0" y2="1804.7" stroke-width="6.9"/>
<line x1="405.4" y1="1598.9" x2="418.0" y2="1598.9" stroke-width="6.9"/>
<line x1="405.4" y1="1393.0" x2="418.0" y2="1393.0" stroke-width="6.9"/>
<line x1="405.4" y1="1187.1" x2="418.0" y2="1187.1" stroke-width="6.9"/>
<line x1="405.4" y1="981.3" x2="418.0" y2="981.3" stroke-width="6.9"/>
<line x1="405.4" y1="775.4" x2="418.0" y2="775.4" stroke-width="6.9"/>
<line x1="405.4" y1="569.5" x2="418.0" y2="569.5" stroke-width="6.9"/>
<line x1="405.4" y1="363.6" x2="418.0" y2="363.6" stroke-width="6.9"/>
<line x1="405.4" y1="157.8" x2="418.0" y2="157.8" stroke-width="6.9"/>
<line x1="419.0" y1="1804.7" x2="419.0" y2="1838.5" stroke-width="6.0"/>
<line x1="781.8" y1="1804.7" x2="781.8" y2="1838.5" stroke-width="6.0"/>
<line x1="1144.5" y1="1804.7" x2="1144.5" y2="1838.5" stroke-width="6.0"/>
<line x1="1507.3" y1="1804.7" x2="1507.3" y2="1838.5" stroke-width="6.0"/>
<line x1="1870.0" y1="1804.7" x2="1870.0" y2="1838.5" stroke-width="6.0"/>
<line x1="2232.8" y1="1804.7" x2="2232.8" y2="1838.5" stroke-width="6.0"/>
<line x1="600.4" y1="1804.7" x2="600.4" y2="1822.5" stroke-width="6.0"/>
<line x1="963.1" y1="1804.7" x2="963.1" y2="1822.5" stroke-width="6.0"/>
<line x1="1325.9" y1="1804.7" x2="1325.9" y2="1822.5" stroke-width="6.0"/>
<line x1="1688.7" y1="1804.7" x2="1688.7" y2="1822.5" stroke-width="6.0"/>
<line x1="2051.4" y1="1804.7" x2="2051.4" y2="1822.5" stroke-width="6.0"/>
<line x1="2415.2" y1="1804.7" x2="2415.2" y2="1822.5" stroke-width="6.0"/>
</g>
<g font-family="'Liberation Sans', sans-serif" fill="#000">
<text transform="translate(340.52,1721.60) scale(0.957,1)" x="0.00" y="0" font-size="70.0">0</text>
<text transform="translate(197.52,1515.73) scale(0.957,1)" x="0.00 33.21 66.42 83.01 116.21 149.42" y="0" font-size="70.0">10,000</text>
<text transform="translate(197.52,1309.86) scale(0.957,1)" x="0.00 33.21 66.42 83.01 116.21 149.42" y="0" font-size="70.0">20,000</text>
<text transform="translate(197.52,1103.99) scale(0.957,1)" x="0.00 33.21 66.42 83.01 116.21 149.42" y="0" font-size="70.0">30,000</text>
<text transform="translate(197.52,898.12) scale(0.957,1)" x="0.00 33.21 66.42 83.01 116.21 149.42" y="0" font-size="70.0">40,000</text>
<text transform="translate(197.52,692.25) scale(0.957,1)" x="0.00 33.21 66.42 83.01 116.21 149.42" y="0" font-size="70.0">50,000</text>
<text transform="translate(197.52,486.38) scale(0.957,1)" x="0.00 33.21 66.42 83.01 116.21 149.42" y="0" font-size="70.0">60,000</text>
<text transform="translate(197.52,280.51) scale(0.957,1)" x="0.00 33.21 66.42 83.01 116.21 149.42" y="0" font-size="70.0">70,000</text>
<text transform="translate(197.52,74.64) scale(0.957,1)" x="0.00 33.21 66.42 83.01 116.21 149.42" y="0" font-size="70.0">80,000</text>
<text transform="translate(402.51,1914.00) scale(0.957,1)" x="0.00" y="0" font-size="70.0">0</text>
<text transform="translate(733.49,1914.00) scale(0.957,1)" x="0.00 33.21 66.42" y="0" font-size="70.0">200</text>
<text transform="translate(1096.25,1914.00) scale(0.957,1)" x="0.00 33.21 66.42" y="0" font-size="70.0">400</text>
<text transform="translate(1459.01,1914.00) scale(0.957,1)" x="0.00 33.21 66.42" y="0" font-size="70.0">600</text>
<text transform="translate(1821.77,1914.00) scale(0.957,1)" x="0.00 33.21 66.42" y="0" font-size="70.0">800</text>
<text transform="translate(2168.64,1914.00) scale(0.957,1)" x="0.00 33.21 66.42 99.62" y="0" font-size="70.0">1000</text>
</g>
<rect x="1912" y="64.6" width="487.7" height="305.4" fill="#fff" stroke="#000" stroke-width="2.5"/>
<g stroke-width="13" stroke-linecap="round" fill="none">
<line x1="2028.5" y1="116.5" x2="2182.5" y2="116.5" stroke="#000"/>
<line x1="2028.5" y1="219.7" x2="2182.5" y2="219.7" stroke="#f00"/>
<line x1="2024" y1="323" x2="2178" y2="323" stroke="#00f"/>
</g>
<g font-family="'Liberation Sans', sans-serif" fill="#000">
<text transform="translate(589.87,894.90) scale(0.9580,1)" x="0.00 49.33 65.75 106.88" y="0" font-size="87.0">Si2p</text>
<text transform="translate(893.75,490.00) scale(0.9580,1)" x="0.00 53.18 94.13" y="0" font-size="87.0">C1s</text>
<text transform="translate(1081.07,798.90) scale(0.9580,1)" x="0.00 53.70 95.05" y="0" font-size="87.0">N1s</text>
<text transform="translate(1331.88,476.80) scale(0.9580,1)" x="0.00 56.63 97.12" y="0" font-size="87.0">O1s</text>
<text transform="translate(2048.94,786.10) scale(0.9850,1)" x="0.00 24.84 62.14" y="0" font-size="84.5">(c)</text>
<text transform="translate(2058.04,1070.70) scale(0.9850,1)" x="0.00 24.34 64.98" y="0" font-size="84.5">(b)</text>
<text transform="translate(2061.94,1331.50) scale(0.9850,1)" x="0.00 24.37 65.08" y="0" font-size="84.5">(a)</text>
<text transform="translate(1921.04,144.00) scale(0.9850,1)" x="0.00 24.87 66.40" y="0" font-size="84.5">(a)</text>
<text transform="translate(1921.04,247.00) scale(0.9850,1)" x="0.00 24.87 66.40" y="0" font-size="84.5">(b)</text>
<text transform="translate(1921.04,350.00) scale(0.9850,1)" x="0.00 24.68 61.73" y="0" font-size="84.5">(c)</text>
<text transform="translate(2202.79,144.00) scale(0.9850,1)" x="0.00 39.69 79.38 103.14" y="0" font-size="84.5">bare</text>
<text transform="translate(2202.22,247.00) scale(0.9580,1)" x="0.00 39.51 79.02 118.52 158.03" y="0" font-size="87.0">15–30</text>
<text transform="translate(2198.43,350.00) scale(0.9580,1)" x="0.00 39.50 79.01 118.51 158.01" y="0" font-size="87.0">25–30</text>
</g>
<g font-family="'Liberation Serif', serif" font-weight="bold" fill="#000">
<text transform="translate(1110.18,2045.00) scale(1.0000,1)" x="0.00 46.29 65.57 104.17 142.77 162.05 200.65 235.35 252.70 298.99 337.59 368.40 399.20 433.90 468.60 485.95 509.06 539.87 589.99" y="0" font-size="83.5">Binding Energy (eV)</text>
<text transform="translate(91.1,1190.9) rotate(-90)" x="0" y="0" font-size="83.5">Intensity (a.u.)</text>
</g>
</svg>
</body></html>
